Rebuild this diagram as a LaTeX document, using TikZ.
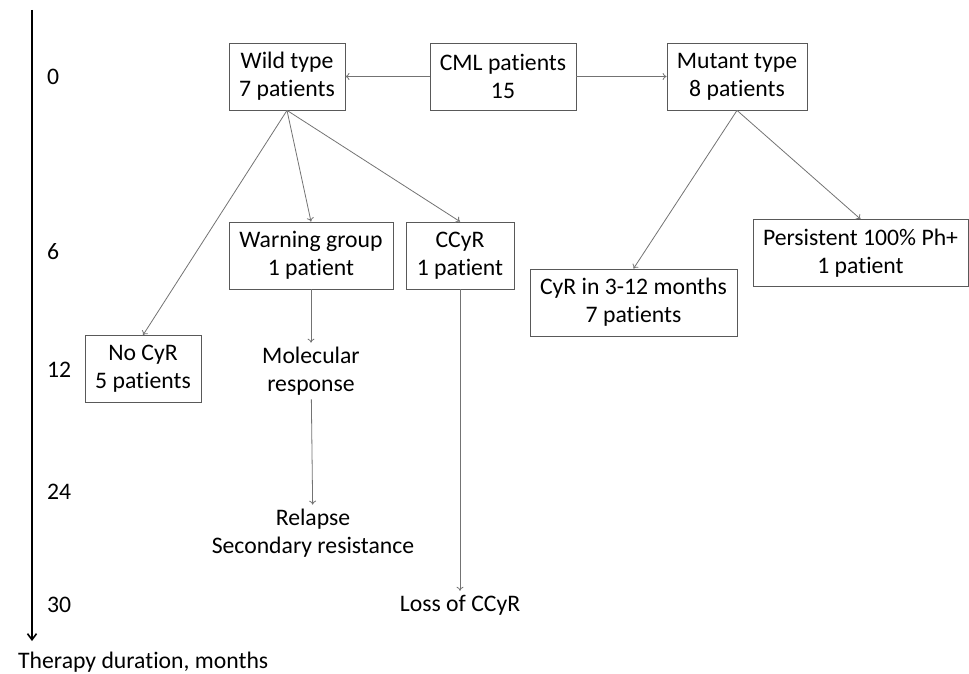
\documentclass[tikz,border=0pt]{standalone}
\usepackage{fontspec}
\setmainfont{Carlito}[Ligatures=NoCommon]
\usetikzlibrary{arrows.meta}
\begin{document}
\begin{tikzpicture}[x=1pt, y=-1pt, font=\fontsize{23.7}{28}\selectfont,
  main/.style = {draw=black!65, line width=0.8pt, align=center, minimum height=67pt, inner sep=2pt},
  txt/.style = {align=center, inner sep=4pt},
  link/.style = {draw=black!55, line width=0.8pt, -{To[length=4pt,width=7pt]}}]
\useasboundingbox (0,0) rectangle (969,674);

% time axis
\coordinate (top) at (32,10);
\coordinate (bot) at (32,641);
\draw[line width=2pt, -{Straight Barb[length=6pt,width=9pt,line width=1.6pt]}] (top) -- (bot);
\foreach \m/\y in {0/77, 6/252, 12/370, 24/492, 30/605}
  \node[anchor=west, inner sep=0pt] (m\m) at (47,\y) {\m};
\node[anchor=west, inner sep=0pt] (axis) at (18,662) {Therapy duration, months};

% boxes
\node[main, minimum width=146pt] (1) at (503,76.5) {CML patients\\15};
\node[main, minimum width=116pt] (2) at (287,76.5) {Wild type\\7 patients};
\node[main, minimum width=140pt] (3) at (737,76.5) {Mutant type\\8 patients};
\node[main, minimum width=116pt] (4) at (143,369) {No CyR\\5 patients};
\node[main, minimum width=164pt] (5) at (311,255.5) {Warning group\\1 patient};
\node[main, minimum width=108pt] (6) at (460,255.5) {CCyR\\1 patient};
\node[main, minimum width=207pt] (7) at (633.5,302.5) {CyR in 3-12 months\\7 patients};
\node[main, minimum width=215pt] (8) at (860.5,253) {Persistent 100\% Ph+\\1 patient};

% outcomes
\node[txt] (9) at (311,371) {Molecular\\response};
\node[txt] (10) at (313,533) {Relapse\\Secondary resistance};
\node[txt] (11) at (460,605) {Loss of CCyR};

\draw[link] (1) -- (2);
\draw[link] (1) -- (3);
\draw[link] (2.south) -- (4.north);
\draw[link] (2.south) -- (5.north);
\draw[link] (2.south) -- (6.north);
\draw[link] (5) -- (9);
\draw[link] (9) -- (10);
\draw[link] (6) -- (11);
\draw[link] (3.south) -- (7.north);
\draw[link] (3.south) -- (8.north);
\end{tikzpicture}
\end{document}
